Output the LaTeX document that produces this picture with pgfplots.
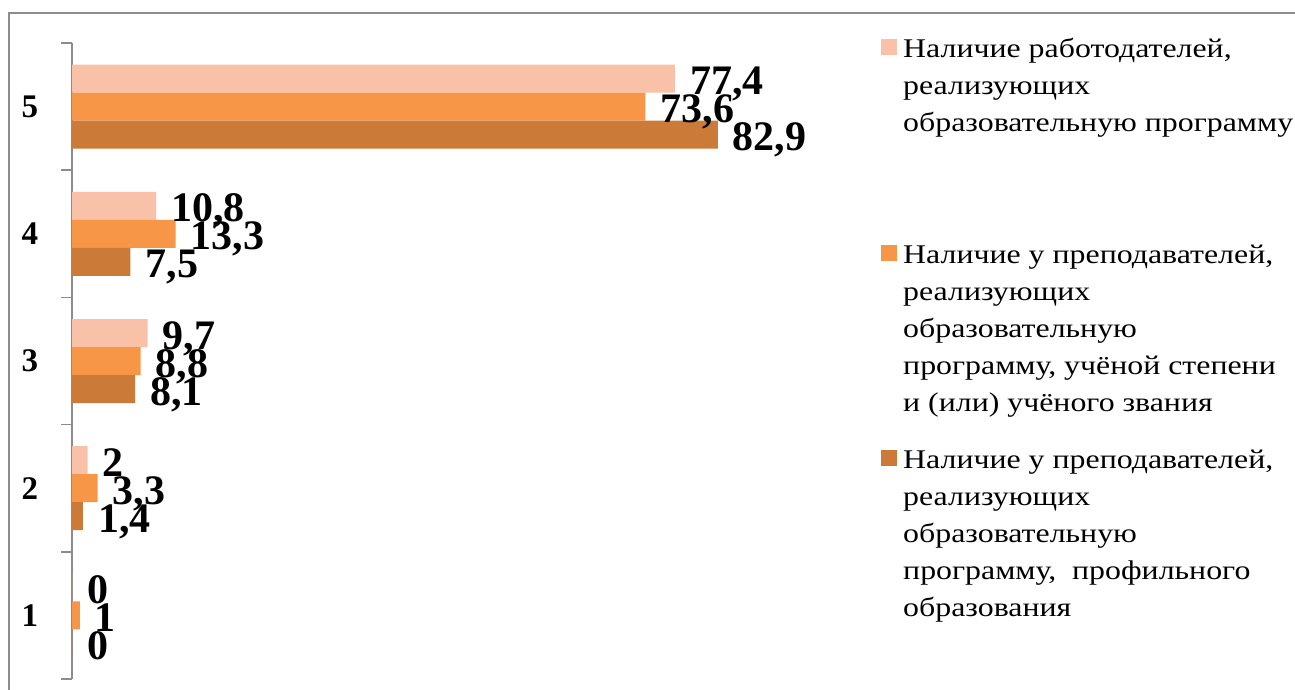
\documentclass[border=0pt]{standalone}
\usepackage{fontspec}
\setmainfont{Liberation Serif}
\newfontfamily\legfont[FakeStretch=1.18]{Liberation Serif}
\usepackage{pgfplots}
\pgfplotsset{compat=1.18}
\definecolor{cLight}{HTML}{F9C2A8}
\definecolor{cMid}{HTML}{F79646}
\definecolor{cDark}{HTML}{CC7A37}
\definecolor{cFrame}{HTML}{8C8C8C}
\begin{document}
\begin{tikzpicture}
\useasboundingbox (0pt,0pt) rectangle (1295pt,-689pt);
\draw[cFrame, line width=1.5pt] (9pt,-720pt) -- (9pt,-13pt) -- (1320pt,-13pt);
\begin{axis}[
  at={(72pt,-679pt)}, anchor=south west,
  scale only axis, width=779pt, height=636pt,
  xmin=0, xmax=100, ymin=0.5, ymax=5.5,
  axis x line=none,
  axis y line*=left,
  y axis line style={cFrame, line width=1.5pt},
  xbar, bar width=28pt,
  ytick={1,2,3,4,5},
  yticklabel={\fontsize{33}{33}\selectfont\bfseries\pgfmathprintnumber[assume math mode=true]{\tick}},
  minor ytick={0.5,1.5,2.5,3.5,4.5,5.5},
  tick align=outside,
  major tick length=0pt,
  minor tick length=11pt,
  every tick/.style={cFrame, line width=1.5pt},
  yticklabel style={anchor=center, xshift=-42pt},
  point meta=explicit symbolic,
  nodes near coords,
  every node near coord/.append style={anchor=base west, inner sep=0pt, xshift=15pt, yshift=-16pt,
     font=\fontsize{42}{42}\selectfont\bfseries, text=black},
  clip=false,
]
\addplot[fill=cLight, draw=none, bar shift=28pt] coordinates {
 (0,1) [0] (2,2) [2] (9.7,3) [{9,7}] (10.8,4) [{10,8}] (77.4,5) [{77,4}]
};
\addplot[fill=cMid, draw=none, bar shift=0pt] coordinates {
 (1,1) [1] (3.3,2) [{3,3}] (8.8,3) [{8,8}] (13.3,4) [{13,3}] (73.6,5) [{73,6}]
};
\addplot[fill=cDark, draw=none, bar shift=-28pt] coordinates {
 (0,1) [0] (1.4,2) [{1,4}] (8.1,3) [{8,1}] (7.5,4) [{7,5}] (82.9,5) [{82,9}]
};
\end{axis}
% legend
\fill[cLight] (881pt,-39pt) rectangle (897pt,-55pt);
\fill[cMid] (881pt,-245pt) rectangle (897pt,-261pt);
\fill[cDark] (881pt,-450pt) rectangle (897pt,-466pt);
\node[anchor=base west, inner sep=0pt, align=left, font=\legfont\fontsize{27}{37}\selectfont] at (903pt,-131pt)
 {Наличие работодателей,\\реализующих\\образовательную программу};
\node[anchor=base west, inner sep=0pt, align=left, font=\legfont\fontsize{27}{37}\selectfont] at (903pt,-411pt)
 {Наличие у преподавателей,\\реализующих\\образовательную\\программу, учёной степени\\и (или) учёного звания};
\node[anchor=base west, inner sep=0pt, align=left, font=\legfont\fontsize{27}{37}\selectfont] at (903pt,-616pt)
 {Наличие у преподавателей,\\реализующих\\образовательную\\программу,\ \ профильного\\образования};
\end{tikzpicture}
\end{document}
